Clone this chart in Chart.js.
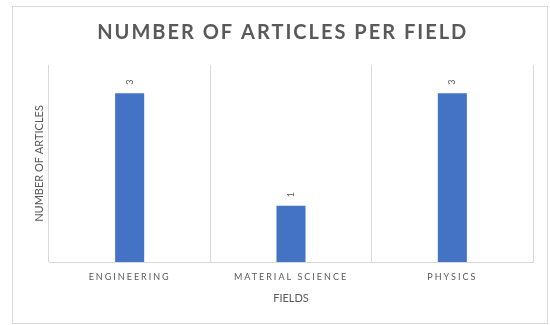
<!DOCTYPE html>
<html>
<head>
<meta charset="utf-8">
<script src="https://cdn.jsdelivr.net/npm/chart.js@4/dist/chart.umd.min.js"></script>
<style>
  html, body { margin: 0; padding: 0; background: #fff; }
  #wrap { width: 550px; height: 325px; }
</style>
</head>
<body>
<div id="wrap"><canvas id="fieldsChart" width="550" height="325"></canvas></div>
<script>
// data
const fields = ['ENGINEERING', 'MATERIAL SCIENCE', 'PHYSICS'];
const articleCounts = [3, 1, 3];

const grey = '#595959';

// frame round the chart + per-element letter spacing (Excel style)
const framePlugin = {
  id: 'frame',
  beforeDraw(chart) {
    const ctx = chart.ctx;
    ctx.save();
    ctx.strokeStyle = '#d9d9d9';
    ctx.lineWidth = 1;
    ctx.strokeRect(12.5, 6.5, 535, 317);
    ctx.restore();

    const x = chart.scales.x;
    if (x && !x._spaced) {
      const orig = x.drawLabels.bind(x);
      x.drawLabels = (area) => {
        ctx.letterSpacing = '2px';
        orig(area);
        ctx.letterSpacing = '0px';
      };
      x._spaced = true;
    }
    const t = chart.titleBlock;
    if (t && !t._spaced) {
      const origT = t.draw.bind(t);
      t.draw = () => {
        ctx.letterSpacing = '2px';
        origT();
        ctx.letterSpacing = '0px';
      };
      t._spaced = true;
    }
  }
};

// rotated value labels above the bars
const valueLabels = {
  id: 'valueLabels',
  afterDatasetsDraw(chart) {
    const ctx = chart.ctx;
    const meta = chart.getDatasetMeta(0);
    ctx.save();
    ctx.fillStyle = grey;
    ctx.font = '9px Lato';
    ctx.textAlign = 'center';
    ctx.textBaseline = 'middle';
    meta.data.forEach((bar, i) => {
      ctx.save();
      ctx.translate(bar.x, bar.y - 11);
      ctx.rotate(-Math.PI / 2);
      ctx.fillText(String(articleCounts[i]), 0, 0);
      ctx.restore();
    });
    ctx.restore();
  }
};

new Chart(document.getElementById('fieldsChart'), {
  type: 'bar',
  data: {
    labels: fields,
    datasets: [{
      label: 'Number of articles',
      data: articleCounts,
      backgroundColor: '#4472C4',
      barPercentage: 0.18,
      categoryPercentage: 1
    }]
  },
  options: {
    responsive: false,
    animation: false,
    layout: { padding: { top: 8, left: 32.4, right: 17, bottom: 21 } },
    plugins: {
      legend: { display: false },
      tooltip: { enabled: false },
      title: {
        display: true,
        text: 'NUMBER OF ARTICLES PER FIELD',
        color: grey,
        font: { family: 'Lato', size: 20, weight: 'bold' },
        padding: { top: 13, bottom: 20 }
      }
    },
    scales: {
      x: {
        grid: { color: '#d9d9d9', offset: true, drawTicks: false },
        border: { color: '#d9d9d9' },
        ticks: {
          color: grey,
          padding: 11,
          font: { family: 'Lato', size: 9, lineHeight: 1 }
        },
        title: {
          display: true,
          text: 'FIELDS',
          color: grey,
          font: { family: 'Lato', size: 11, lineHeight: 1 },
          padding: { top: 0, bottom: 0 }
        }
      },
      y: {
        min: 0,
        max: 3.5,
        grid: { display: false, drawTicks: false },
        border: { display: false },
        ticks: { display: false },
        title: {
          display: true,
          text: 'NUMBER OF ARTICLES',
          color: grey,
          font: { family: 'Lato', size: 11, lineHeight: 1.2 },
          padding: { top: 0, bottom: 3.4 }
        }
      }
    }
  },
  plugins: [framePlugin, valueLabels]
});
</script>
</body>
</html>
